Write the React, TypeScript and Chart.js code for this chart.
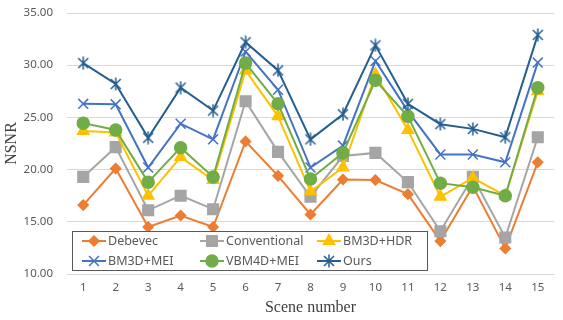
import React, { useEffect, useRef } from "react";
import { Chart, registerables } from "chart.js";
import { drawPoint } from "chart.js/helpers";

Chart.register(...registerables);

const scenes = ["1", "2", "3", "4", "5", "6", "7", "8", "9", "10", "11", "12", "13", "14", "15"];
const yTicks = [10, 15, 20, 25, 30, 35];

const debevec = [16.6, 20.1, 14.5, 15.6, 14.5, 22.7, 19.4, 15.7, 19.05, 19.0, 17.65, 13.15, 18.4, 12.45, 20.7];
const conventional = [19.3, 22.15, 16.1, 17.5, 16.2, 26.55, 21.7, 17.4, 21.3, 21.6, 18.8, 14.1, 19.3, 13.5, 23.1];
const bm3dHdr = [23.7, 23.55, 17.5, 21.2, 19.0, 29.5, 25.1, 17.9, 20.2, 29.1, 23.8, 17.4, 19.2, 17.5, 27.5];
const bm3dMei = [26.3, 26.25, 20.2, 24.4, 22.9, 31.3, 27.65, 20.2, 22.3, 30.4, 25.6, 21.45, 21.45, 20.7, 30.25];
const vbm4dMei = [24.45, 23.8, 18.8, 22.1, 19.3, 30.2, 26.3, 19.1, 21.6, 28.55, 25.1, 18.7, 18.3, 17.5, 27.85];
const ours = [30.2, 28.2, 23.05, 27.85, 25.65, 32.2, 29.5, 22.9, 25.3, 31.9, 26.3, 24.35, 23.9, 23.1, 32.9];

function makeAsterisk(color: string): HTMLCanvasElement {
  const c = document.createElement("canvas");
  c.width = 14;
  c.height = 14;
  const g = c.getContext("2d")!;
  g.strokeStyle = color;
  g.lineWidth = 1.5;
  g.beginPath();
  g.moveTo(2, 2);
  g.lineTo(12, 12);
  g.moveTo(12, 2);
  g.lineTo(2, 12);
  g.moveTo(7, 0.5);
  g.lineTo(7, 13.5);
  g.stroke();
  return c;
}

export default function App() {
  const ref = useRef<HTMLCanvasElement | null>(null);

  useEffect(() => {
    document.body.style.margin = "0";
    const star = makeAsterisk("#255E91");

    const series = [
      { label: "Debevec", data: debevec, color: "#ED7D31", style: "rectRot", radius: 5, order: 6 },
      { label: "Conventional", data: conventional, color: "#A5A5A5", style: "rect", radius: 7.5, order: 5 },
      { label: "BM3D+HDR", data: bm3dHdr, color: "#FFC000", style: "triangle", radius: 6.5, order: 4 },
      { label: "BM3D+MEI", data: bm3dMei, color: "#4472C4", style: "crossRot", radius: 7, order: 3 },
      { label: "VBM4D+MEI", data: vbm4dMei, color: "#70AD47", style: "circle", radius: 6, order: 2 },
      { label: "Ours", data: ours, color: "#255E91", style: star as any, radius: 7, order: 1 },
    ];

    const legendPlugin = {
      id: "insideLegend",
      afterDraw(chart: any) {
        const ctx = chart.ctx as CanvasRenderingContext2D;
        ctx.save();
        const bx = 72.5, by = 231.5, bw = 355, bh = 39;
        ctx.fillStyle = "#ffffff";
        ctx.fillRect(bx, by, bw, bh);
        ctx.strokeStyle = "#595959";
        ctx.lineWidth = 1;
        ctx.strokeRect(bx, by, bw, bh);
        const cols = [82, 200, 317];
        const rows = [241, 261];
        ctx.font = "12.5px 'Noto Sans'";
        ctx.textBaseline = "middle";
        ctx.textAlign = "left";
        series.forEach((s, i) => {
          const x = cols[i % 3];
          const y = rows[Math.floor(i / 3)];
          ctx.strokeStyle = s.color;
          ctx.fillStyle = s.color;
          ctx.lineWidth = 2;
          ctx.beginPath();
          ctx.moveTo(x, y);
          ctx.lineTo(x + 24, y);
          ctx.stroke();
          ctx.lineWidth = 1.5;
          drawPoint(ctx, { pointStyle: s.style, radius: s.radius, rotation: 0, borderWidth: 1.5 } as any, x + 12, y);
          ctx.fillStyle = "#595959";
          ctx.fillText(s.label, x + 26, y + 0.5);
        });
        ctx.restore();
      },
    };

    const chart = new Chart(ref.current!, {
      type: "line",
      data: {
        labels: scenes,
        datasets: series.map((s) => ({
          label: s.label,
          data: s.data,
          borderColor: s.color,
          backgroundColor: s.color,
          borderWidth: 2,
          pointStyle: s.style,
          pointRadius: s.radius,
          pointBorderWidth: 1.5,
          pointBackgroundColor: s.color,
          pointBorderColor: s.color,
          tension: 0,
          order: s.order,
        })),
      },
      options: {
        responsive: false,
        animation: false,
        layout: { padding: { top: 13, right: 2, left: 0, bottom: 0 } },
        plugins: {
          legend: { display: false },
          tooltip: { enabled: false },
        },
        scales: {
          x: {
            offset: true,
            grid: { display: false, drawTicks: false },
            border: { display: true, color: "#D9D9D9", width: 1 },
            ticks: {
              color: "#595959",
              font: { family: "'Noto Sans'", size: 11.5 },
              padding: 7,
              maxRotation: 0,
            },
            title: {
              display: true,
              text: "Scene number",
              color: "#404040",
              font: { family: "'Liberation Serif'", size: 16 },
              padding: { top: 0, bottom: 2.5 },
            },
            afterFit: (scale: any) => {
              scale.height = 46;
              scale.paddingLeft = 0;
              scale.paddingRight = 0;
            },
          },
          y: {
            min: 10,
            max: 35,
            afterBuildTicks: (scale: any) => {
              scale.ticks = yTicks.map((v) => ({ value: v }));
            },
            grid: { color: "#D9D9D9", drawTicks: false, lineWidth: 1 },
            border: { display: false },
            ticks: {
              color: "#595959",
              font: { family: "'Noto Sans'", size: 11.5 },
              padding: 14,
              callback: (v: any) => Number(v).toFixed(2),
            },
            title: {
              display: true,
              text: "NSNR",
              color: "#404040",
              font: { family: "'Liberation Serif'", size: 16 },
              padding: { top: 2.5, bottom: 0 },
            },
            afterFit: (scale: any) => {
              scale.width = 67;
              scale.paddingTop = 0;
              scale.paddingBottom = 0;
            },
          },
        },
      },
      plugins: [legendPlugin],
    });

    return () => {
      chart.destroy();
    };
  }, []);

  return (
    <div style={{ width: 563, height: 320, background: "#ffffff" }}>
      <canvas ref={ref} width={563} height={320} />
    </div>
  );
}
